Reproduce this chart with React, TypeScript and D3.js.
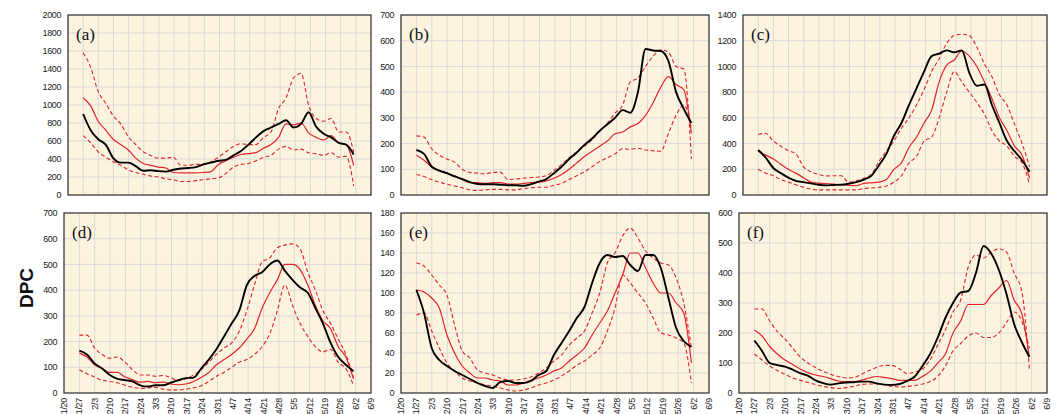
import React from "react";
import * as d3 from "d3";

// Weekly tick dates along the x axis (1/20 .. 6/9)
const tickStart = Date.UTC(2021, 0, 20);
const DAY = 86400000;
const tickDates = d3.range(21).map((k) => new Date(tickStart + k * 7 * DAY));

// Sample dates: 37 readings from 1/27 through 6/1
const sampleStart = Date.UTC(2021, 0, 27);
const sampleDates = d3.range(37).map((i) => new Date(sampleStart + (i * 125 * DAY) / 36));

// Panel (a)
const aObserved = [900, 720, 620, 560, 410, 360, 360, 320, 270, 275, 265, 260, 280, 295, 300, 310, 340, 360, 380, 390, 440, 490, 560, 640, 710, 750, 790, 830, 750, 790, 920, 760, 680, 640, 580, 560, 450];
const aMedian = [1080, 990, 820, 720, 620, 560, 500, 410, 350, 330, 310, 300, 250, 245, 245, 245, 250, 260, 340, 380, 420, 450, 460, 470, 520, 560, 640, 790, 780, 800, 690, 640, 610, 660, 580, 560, 330];
const aUpper = [1580, 1420, 1150, 1020, 880, 790, 650, 560, 480, 440, 410, 410, 420, 330, 330, 340, 340, 370, 420, 480, 540, 570, 560, 560, 640, 700, 960, 1080, 1300, 1350, 1000, 850, 820, 850, 700, 700, 480];
const aLower = [660, 580, 480, 420, 370, 330, 280, 250, 230, 210, 200, 180, 170, 150, 150, 160, 170, 180, 190, 240, 310, 340, 350, 380, 420, 440, 510, 540, 500, 510, 470, 460, 440, 470, 420, 430, 100];

// Panel (b)
const bObserved = [175, 160, 110, 95, 85, 72, 62, 50, 43, 42, 42, 40, 38, 38, 36, 42, 52, 62, 85, 110, 140, 165, 195, 220, 250, 275, 300, 330, 320, 400, 568, 562, 560, 520, 400, 335, 280];
const bMedian = [155, 135, 110, 95, 85, 75, 60, 48, 48, 45, 48, 48, 42, 42, 45, 48, 50, 55, 65, 80, 100, 125, 150, 170, 190, 210, 238, 245, 265, 278, 310, 360, 420, 460, 430, 410, 240];
const bUpper = [230, 225, 180, 155, 140, 128, 100, 88, 85, 82, 88, 88, 60, 62, 65, 68, 70, 75, 95, 118, 145, 168, 190, 215, 248, 280, 318, 350, 440, 455, 500, 540, 565, 555, 500, 490, 140];
const bLower = [80, 72, 60, 50, 42, 35, 28, 20, 18, 20, 22, 22, 20, 20, 25, 28, 30, 30, 38, 45, 60, 75, 90, 110, 130, 145, 160, 180, 178, 182, 175, 172, 170, 240, 310, 350, 270];

// Panel (c)
const cObserved = [350, 290, 210, 170, 135, 110, 100, 90, 80, 75, 78, 80, 88, 100, 120, 150, 230, 320, 460, 560, 700, 830, 960, 1080, 1100, 1125, 1110, 1125, 950, 850, 860, 700, 560, 420, 340, 270, 180];
const cMedian = [340, 310, 280, 240, 200, 170, 135, 100, 92, 88, 85, 80, 75, 72, 90, 95, 100, 120, 200, 250, 370, 450, 560, 660, 880, 1010, 1050, 1120, 1080, 1000, 880, 750, 600, 500, 380, 310, 130];
const cUpper = [470, 480, 420, 380, 345, 320, 220, 180, 160, 148, 150, 150, 100, 110, 130, 160, 260, 340, 420, 520, 600, 700, 820, 960, 1060, 1180, 1240, 1250, 1240, 1150, 1020, 920, 780, 700, 550, 400, 220];
const cLower = [200, 170, 150, 120, 100, 80, 60, 45, 40, 40, 40, 40, 40, 40, 50, 55, 60, 70, 100, 150, 250, 300, 420, 450, 600, 800, 960, 880, 800, 720, 630, 500, 420, 380, 300, 250, 80];

// Panel (d)
const dObserved = [165, 150, 115, 95, 70, 55, 50, 45, 30, 25, 30, 30, 40, 50, 58, 60, 95, 130, 170, 220, 270, 320, 420, 455, 470, 500, 515, 475, 440, 410, 390, 330, 270, 195, 140, 110, 85];
const dMedian = [155, 140, 110, 95, 80, 80, 62, 52, 42, 45, 40, 42, 35, 32, 35, 45, 60, 80, 110, 130, 150, 175, 210, 250, 330, 390, 440, 500, 500, 480, 420, 340, 280, 250, 180, 140, 55];
const dUpper = [225, 225, 175, 150, 135, 140, 120, 90, 70, 70, 65, 68, 60, 48, 55, 70, 90, 120, 150, 175, 195, 240, 320, 420, 510, 525, 565, 575, 580, 560, 470, 400, 320, 270, 210, 150, 60];
const dLower = [90, 75, 62, 50, 45, 40, 30, 22, 18, 20, 22, 15, 12, 12, 15, 20, 28, 45, 65, 80, 100, 120, 130, 150, 180, 230, 320, 420, 340, 270, 220, 180, 160, 170, 120, 95, 30];

// Panel (e)
const eObserved = [103, 80, 45, 33, 27, 22, 18, 14, 10, 7, 5, 11, 12, 10, 10, 12, 18, 22, 38, 50, 62, 75, 86, 110, 130, 138, 136, 137, 128, 122, 138, 138, 125, 95, 65, 52, 46];
const eMedian = [103, 101, 95, 85, 58, 40, 27, 20, 15, 15, 13, 12, 8, 8, 10, 13, 15, 18, 22, 25, 32, 38, 45, 58, 70, 82, 100, 118, 140, 140, 125, 110, 100, 100, 90, 80, 30];
const eUpper = [130, 127, 118, 108, 98, 68, 42, 35, 23, 20, 18, 15, 13, 13, 14, 16, 20, 25, 32, 38, 48, 55, 62, 80, 100, 130, 140, 157, 165, 155, 142, 135, 130, 128, 115, 90, 45];
const eLower = [78, 80, 62, 45, 30, 22, 15, 12, 10, 8, 7, 5, 3, 2, 3, 5, 8, 10, 13, 17, 22, 28, 32, 38, 45, 62, 85, 118, 110, 100, 90, 75, 60, 58, 55, 50, 10];

// Panel (f)
const fObserved = [175, 140, 100, 93, 88, 78, 66, 58, 42, 33, 28, 32, 35, 36, 38, 38, 32, 28, 27, 30, 40, 55, 90, 130, 185, 250, 300, 335, 340, 400, 490, 465, 410, 330, 230, 170, 120];
const fMedian = [210, 190, 155, 130, 110, 95, 80, 68, 60, 55, 48, 40, 38, 38, 42, 50, 55, 52, 48, 42, 42, 42, 55, 72, 100, 130, 200, 240, 295, 295, 295, 325, 350, 375, 310, 265, 120];
const fUpper = [280, 280, 240, 205, 180, 150, 120, 100, 85, 72, 62, 55, 50, 52, 62, 75, 85, 92, 92, 80, 65, 70, 80, 110, 160, 210, 270, 310, 420, 460, 450, 470, 480, 470, 400, 340, 80];
const fLower = [130, 110, 90, 75, 62, 50, 42, 35, 28, 22, 18, 15, 18, 22, 28, 30, 30, 28, 22, 20, 22, 25, 30, 38, 55, 90, 140, 165, 190, 200, 185, 185, 200, 235, 270, 240, 150];

// Y axis extents and steps for each panel
const yMaxes = [2000, 700, 1400, 700, 180, 600];
const ySteps = [200, 100, 200, 100, 20, 100];
const panelLabels = ["(a)", "(b)", "(c)", "(d)", "(e)", "(f)"];

type Panel = {
  label: string;
  yMax: number;
  yStep: number;
  observed: number[];
  median: number[];
  upper: number[];
  lower: number[];
  box: { left: number; right: number; top: number; bottom: number };
  showDates: boolean;
};

const boxes = [
  { left: 68, right: 371, top: 15, bottom: 195 },
  { left: 401, right: 709, top: 15, bottom: 195 },
  { left: 743, right: 1047, top: 15, bottom: 195 },
  { left: 64, right: 371, top: 213, bottom: 393 },
  { left: 401, right: 709, top: 213, bottom: 393 },
  { left: 739, right: 1047, top: 213, bottom: 393 },
];

const seriesSets = [
  [aObserved, aMedian, aUpper, aLower],
  [bObserved, bMedian, bUpper, bLower],
  [cObserved, cMedian, cUpper, cLower],
  [dObserved, dMedian, dUpper, dLower],
  [eObserved, eMedian, eUpper, eLower],
  [fObserved, fMedian, fUpper, fLower],
];

const panels: Panel[] = seriesSets.map((s, i) => ({
  label: panelLabels[i],
  yMax: yMaxes[i],
  yStep: ySteps[i],
  observed: s[0],
  median: s[1],
  upper: s[2],
  lower: s[3],
  box: boxes[i],
  showDates: i >= 3,
}));

const RED = "#e3242b";
const fmt = d3.utcFormat("%-m/%-d");
const tickFont = "Liberation Sans, Arial, sans-serif";

function PanelChart({ p }: { p: Panel }) {
  const { left, right, top, bottom } = p.box;
  const x = d3
    .scaleUtc()
    .domain([tickDates[0], tickDates[tickDates.length - 1]])
    .range([left, right]);
  const y = d3.scaleLinear().domain([0, p.yMax]).range([bottom, top]);
  const yTicks = d3.range(0, p.yMax + p.yStep / 2, p.yStep);

  const line = d3
    .line<number>()
    .x((_, i) => x(sampleDates[i]))
    .y((v) => y(v))
    .curve(d3.curveMonotoneX);

  return (
    <g>
      <rect x={left} y={top} width={right - left} height={bottom - top} fill="#fdf4df" />
      {tickDates.slice(1, -1).map((t, i) => (
        <line key={"vx" + i} x1={x(t)} x2={x(t)} y1={top} y2={bottom} stroke="#d9d9d9" strokeWidth={1} />
      ))}
      {yTicks.slice(1, -1).map((v, i) => (
        <line key={"hy" + i} x1={left} x2={right} y1={y(v)} y2={y(v)} stroke="#d9d9d9" strokeWidth={1} />
      ))}
      <path d={line(p.lower) || ""} fill="none" stroke={RED} strokeWidth={1.1} strokeDasharray="4,2.5" />
      <path d={line(p.upper) || ""} fill="none" stroke={RED} strokeWidth={1.1} strokeDasharray="4,2.5" />
      <path d={line(p.median) || ""} fill="none" stroke={RED} strokeWidth={1.2} />
      <path d={line(p.observed) || ""} fill="none" stroke="#000" strokeWidth={1.9} />
      <rect x={left} y={top} width={right - left} height={bottom - top} fill="none" stroke="#3a3a3a" strokeWidth={1.3} />
      {yTicks.map((v, i) => (
        <text
          key={"yt" + i}
          x={left - 7}
          y={y(v)}
          dy="0.35em"
          textAnchor="end"
          fontFamily={tickFont}
          fontSize={9}
          letterSpacing={-0.4}
          fill="#222"
        >
          {v}
        </text>
      ))}
      {p.showDates &&
        tickDates.map((t, i) => (
          <text
            key={"xt" + i}
            transform={`translate(${x(t) + 3},${bottom + 5}) rotate(-90)`}
            textAnchor="end"
            fontFamily={tickFont}
            fontSize={9}
            letterSpacing={-0.3}
            fill="#222"
          >
            {fmt(t)}
          </text>
        ))}
      <text x={left + 8} y={top + 25} fontFamily="Liberation Serif, Times New Roman, serif" fontSize={17} fill="#111">
        {p.label}
      </text>
    </g>
  );
}

export default function App() {
  return (
    <svg
      width={1059}
      height={414}
      style={{ position: "absolute", left: 0, top: 0, background: "#fff" }}
    >
      {panels.map((p, i) => (
        <PanelChart key={i} p={p} />
      ))}
      <text
        transform="translate(33,288) rotate(-90)"
        textAnchor="middle"
        fontFamily="Liberation Sans, Arial, sans-serif"
        fontWeight="bold"
        fontSize={19}
        fill="#111"
      >
        DPC
      </text>
    </svg>
  );
}
